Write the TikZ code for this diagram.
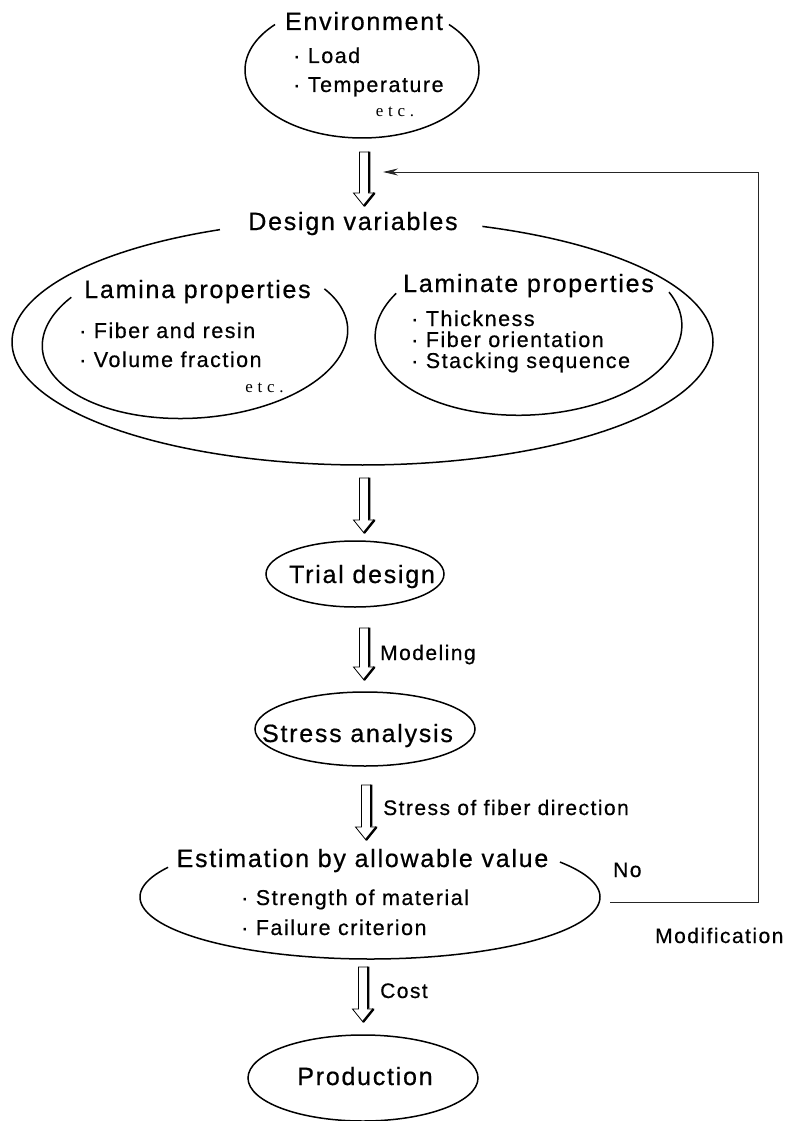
\documentclass[tikz,border=0pt]{standalone}
\usepackage{fontspec}
\setmainfont{Liberation Sans}
\newfontfamily\headfont[LetterSpace=7,FakeBold=0.6]{Liberation Sans}
\newfontfamily\itemfont[LetterSpace=7,FakeBold=0.5]{Liberation Sans}
\newfontfamily\etcfont[LetterSpace=28]{Liberation Serif}
\usetikzlibrary{calc,arrows.meta}

\tikzset{
  outline/.style={line width=1.5pt},
  heading/.style={inner sep=0pt, anchor=base, font=\headfont\fontsize{25}{30}\selectfont},
  item/.style={inner sep=0pt, anchor=base west, font=\itemfont\fontsize{21.5}{26}\selectfont},
  flowlabel/.style={inner sep=0pt, anchor=base west, font=\itemfont\fontsize{21}{25}\selectfont},
  etcnote/.style={inner sep=0pt, font=\etcfont\fontsize{17}{19}\selectfont},
  hollowedge/.style={line width=0.8pt, line join=miter},
  shadowedge/.style={line width=2.4pt},
  feedback/.style={line width=0.9pt, black!85},
}

% hollow block arrow from #1 (top of shaft) down to #2 (tip)
\newcommand\hollowarrow[2]{%
  \draw[hollowedge] let \p1=(#1), \p2=(#2) in
    (\x1-4.5pt,\y1) -- (\x1+4.5pt,\y1) -- (\x1+4.5pt,\y2+13pt) -- (\x1+10.5pt,\y2+13pt)
    -- (\x1,\y2) -- (\x1-10.5pt,\y2+13pt) -- (\x1-4.5pt,\y2+13pt) -- cycle;
  \draw[shadowedge] let \p1=(#1), \p2=(#2) in
    (\x1+5.2pt,\y1+0.4pt) -- (\x1+5.2pt,\y2+13.5pt)
    (\x1+10.5pt,\y2+13pt) -- (\x1,\y2);
}

\begin{document}
\begin{tikzpicture}[x=1pt,y=-1pt]
\useasboundingbox (0,0) rectangle (788,1121);

% centres of the oval blocks
\coordinate (env) at (362,70);
\coordinate (dv) at (362.5,342);
\coordinate (lamina) at (195,338);
\coordinate (laminate) at (528.5,331);
\coordinate (trial) at (355,574);
\coordinate (stress) at (365,729);
\coordinate (est) at (370,897);
\coordinate (prod) at (363,1078);

% oval outlines, open where the heading sits
\draw[outline, shift={(env)}] plot[domain=318:582, samples=120] ({117*cos(\x)},{68*sin(\x)});
\draw[outline, shift={(dv)}] plot[domain=290:606, samples=240] ({350.5*cos(\x)},{123*sin(\x)});
\draw[outline, shift={(lamina)}, rotate=4] plot[domain=330:578, samples=160] ({153*cos(\x)},{80*sin(\x)});
\draw[outline, shift={(laminate)}, rotate=3] plot[domain=338:572, samples=160] ({153.5*cos(\x)},{84*sin(\x)});
\draw[outline] (trial) ellipse [x radius=89, y radius=33];
\draw[outline] (stress) ellipse [x radius=110, y radius=37];
\draw[outline, shift={(est)}] plot[domain=325.7:568.6, samples=200] ({230*cos(\x)},{62*sin(\x)});
\draw[outline] (prod) ellipse [x radius=115, y radius=43];

% texts
\node[heading] (envT) at (364,30) {Environment};
\node[item] (load) at (293,63) {· Load};
\node[item] (temp) at (293,92) {· Temperature};
\node[etcnote] (envEtc) at (395,112) {etc.};

\node[heading] (dvT) at (353,230) {Design variables};
\node[heading] (lamT) at (197.5,298) {Lamina properties};
\node[item] (fib) at (79,338) {· Fiber and resin};
\node[item] (vol) at (79,367) {· Volume fraction};
\node[etcnote] (lamEtc) at (264.5,388) {etc.};
\node[heading] (lmtT) at (528.5,292) {Laminate properties};
\node[item] (thk) at (411,326) {· Thickness};
\node[item] (ori) at (411,347) {· Fiber orientation};
\node[item] (stk) at (411,368) {· Stacking sequence};

\node[heading] (trialT) at (362,583) {Trial design};
\node[heading] (stressT) at (357.5,742) {Stress analysis};
\node[heading] (estT) at (362.5,867) {Estimation by allowable value};
\node[item] (str) at (241,905) {· Strength of material};
\node[item] (fail) at (241,935) {· Failure criterion};
\node[heading] (prodT) at (365,1085) {Production};

\node[flowlabel] (modL) at (380,660) {Modeling};
\node[flowlabel] (sfdL) at (383,815) {Stress of fiber direction};
\node[flowlabel] (costL) at (380,998) {Cost};
\node[flowlabel] (noL) at (613,877) {No};
\node[flowlabel] (modifL) at (655,943) {Modification};

% block arrows between the stages
\coordinate (a1s) at (364,152); \coordinate (a1e) at (364,206);
\coordinate (a2s) at (364,478); \coordinate (a2e) at (364,533);
\coordinate (a3s) at (364,628); \coordinate (a3e) at (364,680);
\coordinate (a4s) at (366,785); \coordinate (a4e) at (366,840);
\coordinate (a5s) at (363,967); \coordinate (a5e) at (363,1022);
\hollowarrow{a1s}{a1e}
\hollowarrow{a2s}{a2e}
\hollowarrow{a3s}{a3e}
\hollowarrow{a4s}{a4e}
\hollowarrow{a5s}{a5e}

% modification loop back to the design variables
\coordinate (fbs) at (610,902);
\coordinate (fbc) at (758,172);
\coordinate (fbt) at (383,172);
\draw[feedback, -{Stealth[length=15pt,width=7pt]}] (fbs) -| (fbc) -- (fbt);
\end{tikzpicture}
\end{document}
